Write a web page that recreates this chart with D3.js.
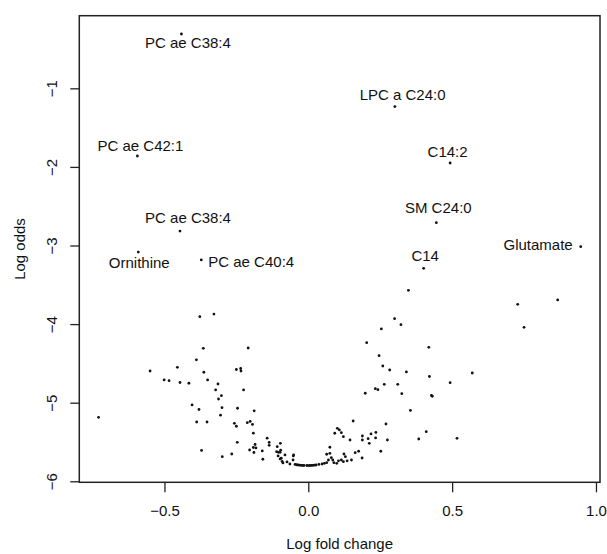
<!DOCTYPE html>
<html>
<head>
    <meta charset="utf-8">
    <title>Volcano plot</title>
    <script src="https://d3js.org/d3.v7.min.js"></script>
    <style>
        body { margin: 0; background: #fff; }
        text { font-family: "Liberation Sans", Arial, sans-serif; fill: #111; }
    </style>
</head>
<body>
    <div id="chart"></div>

    <script>
        // labelled metabolites
        const labelNames = ["PC ae C38:4", "LPC a C24:0", "PC ae C42:1", "C14:2", "PC ae C38:4",
                            "Ornithine", "PC ae C40:4", "SM C24:0", "Glutamate", "C14"];
        const labelFC   = [-0.441, 0.301, -0.594, 0.493, -0.446, -0.591, -0.372, 0.445, 0.947, 0.401];
        const labelOdds = [-0.309, -1.232, -1.861, -1.950, -2.816, -3.083, -3.184, -2.710, -3.015, -3.290];
        // where each label sits next to its point (anchor, dx, dy in px)
        const labelAnchor = ["middle", "middle", "middle", "middle", "middle", "middle", "start", "middle", "end", "middle"];
        const labelShift = [[6.5, 14], [7.7, -7], [3, -5], [-2.5, -6], [8, -8], [1, 16], [7, 7.5], [2, -10], [-8, 3.5], [1.5, -7.6]];

        // the other metabolites
        const logFC = [
            0.348, 0.728, 0.867, 0.750, -0.377, -0.328, 0.300, 0.322, 0.254, 0.203, 0.419, 0.246, -0.365, -0.209, -0.389,
            -0.550, -0.501, -0.484, -0.455, -0.446, -0.415, -0.363, -0.350, -0.404, -0.380, -0.388, -0.352, -0.371, -0.729,
            -0.314, -0.322, -0.302, -0.312, -0.300, -0.305, -0.299, -0.266, -0.250, -0.235, -0.234, -0.225, -0.246, -0.257,
            -0.250, -0.247, -0.212, -0.202, -0.194, -0.188, -0.191, -0.204, -0.185, -0.191, -0.182, -0.189, -0.160, -0.158,
            -0.143, -0.136, -0.136, -0.108, -0.097, -0.110, -0.098, -0.105, -0.098, -0.091, -0.088, -0.081, -0.074, -0.064,
            -0.052, -0.053, -0.046, -0.096, -0.104, -0.094, -0.051,
            -0.041, -0.036, -0.030, -0.025, -0.020, -0.015, -0.005, 0.000, 0.006, 0.011, 0.016, 0.021, 0.027, 0.037, 0.048,
            0.056, 0.064, 0.070, 0.064, 0.075, 0.075, 0.085, 0.089, 0.099, 0.092, 0.101, 0.108, 0.115, 0.122, 0.124, 0.129,
            0.145, 0.150, 0.156, 0.163, 0.175, 0.188, 0.188, 0.187, 0.208, 0.212, 0.234, 0.235, 0.218, 0.252, 0.270, 0.275,
            0.080, 0.105, 0.115, 0.122, 0.135,
            0.259, 0.283, 0.341, 0.421, 0.233, 0.242, 0.264, 0.311, 0.325, 0.428, 0.431, 0.198, 0.355, 0.493, 0.570, 0.384,
            0.410, 0.517
        ];
        const logOdds = [
            -3.570, -3.748, -3.693, -4.041, -3.906, -3.872, -3.931, -4.008, -4.062, -4.237, -4.295, -4.402, -4.308, -4.304, -4.454,
            -4.597, -4.711, -4.720, -4.550, -4.743, -4.753, -4.613, -4.711, -5.029, -5.087, -5.246, -5.246, -5.608, -5.186,
            -4.762, -4.838, -4.911, -4.953, -5.064, -5.159, -5.687, -5.653, -4.578, -4.565, -4.597, -4.838, -5.071, -5.262,
            -5.300, -5.504, -5.254, -5.239, -5.277, -5.103, -5.388, -5.602, -5.532, -5.570, -5.576, -5.634, -5.614, -5.720,
            -5.452, -5.506, -5.542, -5.560, -5.517, -5.623, -5.631, -5.678, -5.716, -5.748, -5.767, -5.665, -5.754, -5.780,
            -5.678, -5.729, -5.786, -5.604, -5.631, -5.707, -5.665,
            -5.790, -5.793, -5.795, -5.797, -5.798, -5.799, -5.799, -5.800, -5.799, -5.798, -5.797, -5.795, -5.793, -5.786, -5.780,
            -5.771, -5.763, -5.729, -5.656, -5.644, -5.567, -5.729, -5.763, -5.771, -5.389, -5.326, -5.347, -5.382, -5.433, -5.653, -5.687,
            -5.475, -5.729, -5.233, -5.636, -5.618, -5.424, -5.475, -5.704, -5.458, -5.517, -5.449, -5.379, -5.398, -5.618, -5.271, -5.475,
            -5.700, -5.740, -5.729, -5.750, -5.740,
            -4.533, -4.584, -4.609, -4.667, -4.822, -4.835, -4.766, -4.766, -4.885, -4.908, -4.918, -4.880, -5.099, -4.746, -4.622, -5.462,
            -5.369, -5.453
        ];

        const xTicks = [-0.5, 0.0, 0.5, 1.0];
        const yTicks = [-1, -2, -3, -4, -5, -6];

        const width = 607, height = 554;
        const plotLeft = 79.3, plotRight = 600, plotTop = 15.7, plotBottom = 482.3;

        const svg = d3.select("#chart")
            .append("svg")
            .attr("width", width)
            .attr("height", height);

        const x = d3.scaleLinear().domain([-0.796, 1.014]).range([plotLeft, plotRight]);
        const y = d3.scaleLinear().domain([-6.013, -0.076]).range([plotBottom, plotTop]);

        const fmtX = d3.format(".1f");
        const fmtY = d3.format("d");

        // x axis
        const gx = svg.append("g")
            .attr("transform", `translate(0,${plotBottom})`)
            .call(d3.axisBottom(x).tickValues(xTicks).tickFormat(fmtX).tickSize(10).tickSizeOuter(0).tickPadding(13.5));
        gx.select(".domain").remove();
        gx.selectAll("line").attr("stroke", "#222").attr("stroke-width", 1.3);
        gx.selectAll("text").attr("font-size", 15).style("font-family", "Liberation Sans, Arial, sans-serif").attr("fill", "#111");

        // y axis, labels turned like R's default
        const gy = svg.append("g")
            .attr("transform", `translate(${plotLeft},0)`)
            .call(d3.axisLeft(y).tickValues(yTicks).tickFormat(fmtY).tickSize(9).tickSizeOuter(0));
        gy.select(".domain").remove();
        gy.selectAll("line").attr("stroke", "#222").attr("stroke-width", 1.3);
        gy.selectAll("text")
            .attr("x", null).attr("dy", null)
            .attr("text-anchor", "middle")
            .attr("transform", "translate(-22.3,0) rotate(-90)")
            .attr("font-size", 15)
            .style("font-family", "Liberation Sans, Arial, sans-serif")
            .attr("fill", "#111");

        // frame
        svg.append("rect")
            .attr("x", plotLeft).attr("y", plotTop)
            .attr("width", plotRight - plotLeft).attr("height", plotBottom - plotTop)
            .attr("fill", "none")
            .attr("stroke", "#222")
            .attr("stroke-width", 1.5);

        // points
        const pts = logFC.map((v, i) => ({ fc: v, odds: logOdds[i] }));
        svg.append("g").selectAll("circle")
            .data(pts)
            .enter().append("circle")
            .attr("cx", d => x(d.fc))
            .attr("cy", d => y(d.odds))
            .attr("r", 1.4)
            .attr("fill", "#111");

        const labelled = labelNames.map((n, i) => ({ name: n, fc: labelFC[i], odds: labelOdds[i], anchor: labelAnchor[i], shift: labelShift[i] }));
        svg.append("g").selectAll("circle")
            .data(labelled)
            .enter().append("circle")
            .attr("cx", d => x(d.fc))
            .attr("cy", d => y(d.odds))
            .attr("r", 1.4)
            .attr("fill", "#111");

        svg.append("g").selectAll("text")
            .data(labelled)
            .enter().append("text")
            .attr("x", d => x(d.fc) + d.shift[0])
            .attr("y", d => y(d.odds) + d.shift[1])
            .attr("text-anchor", d => d.anchor)
            .attr("font-size", 15)
            .text(d => d.name);

        // axis titles
        svg.append("text")
            .attr("x", (plotLeft + plotRight) / 2)
            .attr("y", 549)
            .attr("text-anchor", "middle")
            .attr("font-size", 15)
            .text("Log fold change");

        svg.append("text")
            .attr("transform", `translate(25,${(plotTop + plotBottom) / 2}) rotate(-90)`)
            .attr("text-anchor", "middle")
            .attr("font-size", 15)
            .text("Log odds");
    </script>
</body>
</html>
